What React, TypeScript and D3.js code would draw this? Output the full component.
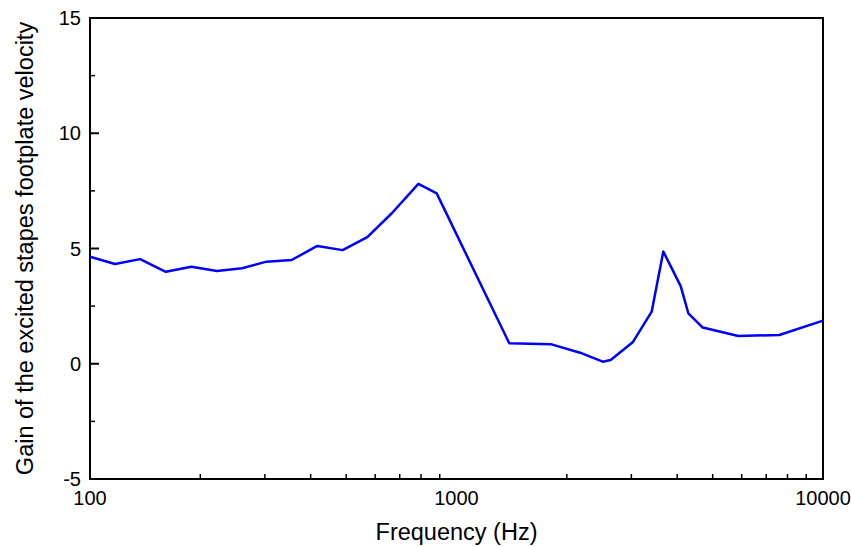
import React, { useRef, useEffect } from "react";
import * as d3 from "d3";

const frequency: number[] = [
  100, 117, 137, 161, 189, 222, 260, 303, 355, 417, 489, 571, 666, 787, 883,
  1393, 1807, 2173, 2506, 2634, 3025, 3408, 3667, 4090, 4291, 4697, 5875, 7600,
  10000,
];
const gain: number[] = [
  4.64, 4.33, 4.54, 3.99, 4.21, 4.02, 4.14, 4.43, 4.5, 5.11, 4.93, 5.49, 6.53,
  7.8, 7.39, 0.89, 0.85, 0.48, 0.09, 0.16, 0.93, 2.26, 4.87, 3.37, 2.19, 1.57,
  1.2, 1.25, 1.87,
];
const yTicks: number[] = [-5, 0, 5, 10, 15];
const xTicks: number[] = [100, 1000, 10000];

const width = 851;
const height = 547;
const margin = { left: 90, right: 28, top: 18, bottom: 68 };
const font = "'Liberation Sans', Arial, sans-serif";

const App: React.FC = () => {
  const ref = useRef<SVGSVGElement>(null);

  useEffect(() => {
    if (!ref.current) return;
    const svg = d3.select(ref.current);
    svg.selectAll("*").remove();

    const x = d3
      .scaleLog()
      .domain([100, 10000])
      .range([margin.left, width - margin.right]);
    const y = d3
      .scaleLinear()
      .domain([-5, 15])
      .range([height - margin.bottom, margin.top]);

    const x0 = margin.left;
    const x1 = width - margin.right;
    const y0 = height - margin.bottom;
    const y1 = margin.top;

    // frame
    svg
      .append("rect")
      .attr("x", x0)
      .attr("y", y1)
      .attr("width", x1 - x0)
      .attr("height", y0 - y1)
      .attr("fill", "none")
      .attr("stroke", "#000")
      .attr("stroke-width", 2);

    // x minor ticks
    const minor: number[] = [];
    for (let d = 100; d < 10000; d *= 10) {
      for (let k = 2; k <= 9; k++) minor.push(d * k);
    }
    svg
      .append("g")
      .selectAll("line")
      .data(minor)
      .enter()
      .append("line")
      .attr("x1", (d) => x(d))
      .attr("x2", (d) => x(d))
      .attr("y1", y0)
      .attr("y2", y0 - 5)
      .attr("stroke", "#000")
      .attr("stroke-width", 1.5);

    svg
      .append("g")
      .selectAll("text")
      .data(xTicks)
      .enter()
      .append("text")
      .attr("x", (d) => x(d))
      .attr("y", y0 + 26)
      .attr("text-anchor", "middle")
      .attr("font-family", font)
      .attr("font-size", 20)
      .text((d) => String(d));

    // y ticks
    svg
      .append("g")
      .selectAll("line")
      .data(yTicks)
      .enter()
      .append("line")
      .attr("x1", x0)
      .attr("x2", x0 + 9)
      .attr("y1", (d) => y(d))
      .attr("y2", (d) => y(d))
      .attr("stroke", "#000")
      .attr("stroke-width", 2);

    svg
      .append("g")
      .selectAll("line")
      .data(yTicks.slice(0, -1).map((d) => d + 2.5))
      .enter()
      .append("line")
      .attr("x1", x0)
      .attr("x2", x0 + 5)
      .attr("y1", (d) => y(d))
      .attr("y2", (d) => y(d))
      .attr("stroke", "#000")
      .attr("stroke-width", 1.5);

    svg
      .append("g")
      .selectAll("text")
      .data(yTicks)
      .enter()
      .append("text")
      .attr("x", x0 - 9)
      .attr("y", (d) => y(d))
      .attr("dy", "0.36em")
      .attr("text-anchor", "end")
      .attr("font-family", font)
      .attr("font-size", 20)
      .text((d) => String(d));

    // line
    const line = d3
      .line<number>()
      .x((_, i) => x(frequency[i]))
      .y((d) => y(d));

    svg
      .append("path")
      .datum(gain)
      .attr("d", line)
      .attr("fill", "none")
      .attr("stroke", "#0000ff")
      .attr("stroke-width", 2.5)
      .attr("stroke-linejoin", "round");

    // labels
    svg
      .append("text")
      .attr("x", (x0 + x1) / 2)
      .attr("y", 540)
      .attr("text-anchor", "middle")
      .attr("font-family", font)
      .attr("font-size", 23.5)
      .text("Frequency (Hz)");

    svg
      .append("text")
      .attr("transform", `translate(33,${(y0 + y1) / 2}) rotate(-90)`)
      .attr("text-anchor", "middle")
      .attr("font-family", font)
      .attr("font-size", 23.5)
      .text("Gain of the excited stapes footplate velocity");
  }, []);

  return (
    <svg
      ref={ref}
      width={width}
      height={height}
      style={{ position: "absolute", left: 0, top: 0, background: "#fff" }}
    />
  );
};

export default App;
